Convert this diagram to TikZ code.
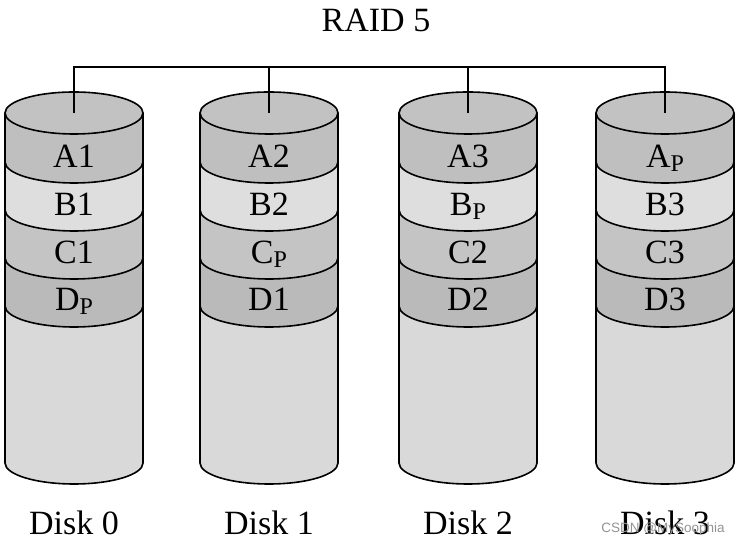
\documentclass[tikz,border=0pt]{standalone}
\usepackage{fontspec}
\setmainfont{Liberation Serif}
\newfontfamily\wmfont{Liberation Sans}
\newcommand\subP{\raisebox{-4pt}{\fontsize{24}{24}\selectfont P}}
\definecolor{topc}{gray}{0.76}
\definecolor{ac}{gray}{0.75}
\definecolor{bc}{gray}{0.87}
\definecolor{cc}{gray}{0.77}
\definecolor{dc}{gray}{0.73}
\definecolor{bodyc}{gray}{0.85}
\begin{document}
\begin{tikzpicture}[x=1pt,y=1pt,line width=1.6pt,line join=miter,
  lbl/.style={font=\fontsize{34}{38}\selectfont,inner sep=0pt,anchor=base}]
\useasboundingbox (0,0) rectangle (741,545);
\def\rx{69}
\def\ry{21}
\foreach \cx/\i/\a/\b/\c/\d in {74/0/A1/B1/C1/D\subP, 269/1/A2/B2/C\subP/D1, 468/2/A3/B\subP/C2/D2, 665/3/A\subP/B3/C3/D3}{
  \fill[bodyc] (\cx-\rx,432) -- (\cx-\rx,82) arc[start angle=180,end angle=360,x radius=\rx,y radius=\ry] -- (\cx+\rx,432) -- cycle;
  \foreach \yt/\yb/\col in {432/383/ac,383/335/bc,335/287/cc,287/239/dc}{
    \fill[\col] (\cx-\rx,\yt) arc[start angle=180,end angle=360,x radius=\rx,y radius=\ry] -- (\cx+\rx,\yb) arc[start angle=0,end angle=-180,x radius=\rx,y radius=\ry] -- cycle;
  }
  \foreach \y in {383,335,287,239}{
    \draw (\cx-\rx,\y) arc[start angle=180,end angle=360,x radius=\rx,y radius=\ry];
  }
  \draw[fill=topc] (\cx,432) ellipse[x radius=\rx,y radius=\ry];
  \draw (\cx-\rx,432) -- (\cx-\rx,82) arc[start angle=180,end angle=360,x radius=\rx,y radius=\ry] -- (\cx+\rx,432);
  \node[lbl] (a\i) at (\cx,377) {\a};
  \node[lbl] (b\i) at (\cx,329) {\b};
  \node[lbl] (c\i) at (\cx,281) {\c};
  \node[lbl] (d\i) at (\cx,234) {\d};
  \node[lbl] (disk\i) at (\cx,10) {Disk \i};
  \coordinate (top\i) at (\cx,432);
  \coordinate (bus\i) at (\cx,478);
}
\draw[line width=1.4pt] (top0) -- (bus0) -- (bus3) -- (top3);
\draw[line width=1.4pt] (bus1) -- (top1);
\draw[line width=1.4pt] (bus2) -- (top2);
\node[lbl] (title) at (376,513) {RAID 5};
\node[inner sep=0pt,anchor=base,font=\wmfont\fontsize{13.5}{16}\selectfont,text=gray!85] (wm) at (663,12) {CSDN @MySoophia};
\end{tikzpicture}
\end{document}
